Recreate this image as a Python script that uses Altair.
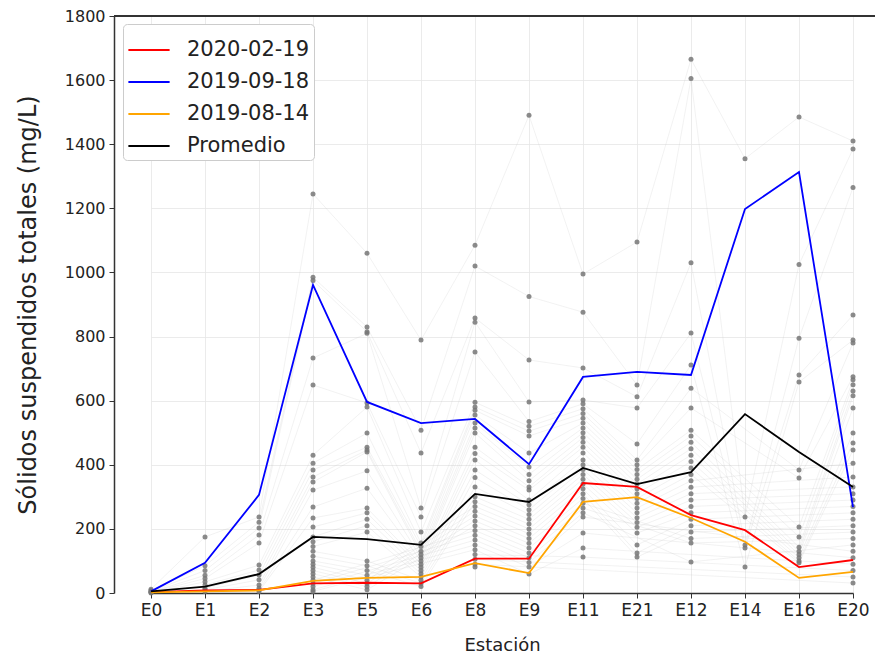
import altair as alt
import pandas as pd

stations = ["E0", "E1", "E2", "E3", "E5", "E6", "E8", "E9", "E11", "E21", "E12", "E14", "E16", "E20"]

red_2020_02_19 = [3, 8, 10, 30, 32, 30, 107, 107, 343, 331, 243, 196, 81, 103]
blue_2019_09_18 = [5, 94, 306, 961, 596, 530, 543, 402, 674, 690, 680, 1198, 1313, 268]
orange_2019_08_14 = [2, 5, 8, 38, 47, 50, 93, 62, 284, 299, 234, 160, 47, 66]
promedio = [5, 20, 59, 175, 168, 150, 309, 284, 390, 340, 377, 558, 440, 331]

series_names = ["2020-02-19", "2019-09-18", "2019-08-14", "Promedio"]
series_colors = ["#ff0000", "#0000ff", "#ffa500", "#000000"]

pts_E0 = [12, 8, 5, 3, 2, 0]
pts_E1 = [175, 85, 70, 55, 45, 35, 25, 15, 10, 5]
pts_E2 = [237, 221, 203, 181, 156, 87, 72, 56, 41, 25, 15, 9, 5]
pts_E3 = [1245, 985, 975, 733, 649, 430, 405, 384, 362, 346, 321, 268, 234, 206, 175, 160,
          145, 130, 115, 100, 90, 80, 70, 60, 50, 40, 30, 20, 10, 5]
pts_E5 = [1060, 830, 815, 810, 593, 580, 499, 455, 446, 440, 381, 327, 265, 250, 230, 210,
          190, 100, 85, 70, 55, 40, 30, 20, 10]
pts_E6 = [789, 508, 437, 265, 237, 190, 156, 145, 130, 120, 110, 100, 90, 80, 70, 60, 50, 40, 30, 20]
pts_E8 = [1085, 1020, 858, 845, 752, 595, 580, 570, 555, 530, 515, 499, 455, 435, 415, 384,
          360, 331, 300, 285, 270, 255, 240, 225, 210, 195, 180, 165, 150, 135, 120, 105, 90, 81]
pts_E9 = [1490, 925, 727, 596, 535, 520, 505, 490, 437, 393, 370, 350, 331, 321, 290, 275,
          260, 245, 230, 215, 200, 185, 170, 155, 140, 125, 110, 95, 81, 59]
pts_E11 = [995, 876, 702, 602, 590, 575, 560, 545, 530, 515, 500, 485, 470, 455, 437, 415,
           400, 385, 370, 355, 340, 325, 310, 295, 280, 265, 250, 237, 187, 140, 112]
pts_E21 = [1095, 649, 612, 577, 465, 415, 400, 385, 370, 355, 340, 325, 310, 295, 280, 265,
           250, 235, 220, 205, 187, 150, 125, 112]
pts_E12 = [1665, 1605, 1030, 811, 711, 639, 577, 508, 490, 470, 450, 430, 410, 390, 370, 350,
           330, 310, 290, 270, 250, 230, 210, 190, 170, 156, 97]
pts_E14 = [1355, 237, 150, 140, 81]
pts_E16 = [1485, 1025, 795, 680, 658, 384, 359, 206, 175, 143, 130, 120, 110, 100, 94]
pts_E20 = [1410, 1385, 1265, 867, 789, 780, 675, 665, 650, 630, 615, 577, 499, 468, 446, 405,
           362, 331, 310, 290, 270, 250, 230, 210, 190, 170, 150, 130, 110, 90, 70, 50, 31]

station_points = [pts_E0, pts_E1, pts_E2, pts_E3, pts_E5, pts_E6, pts_E8, pts_E9,
                  pts_E11, pts_E21, pts_E12, pts_E14, pts_E16, pts_E20]

# ---- tables built from the arrays ----
rows = []
for st, vals in zip(stations, station_points):
    for i, v in enumerate(vals):
        rows.append({"Estación": st, "valor": v, "muestra": i, "orden": stations.index(st)})
df_pts = pd.DataFrame(rows)

srows = []
for name, vals in zip(series_names, [red_2020_02_19, blue_2019_09_18, orange_2019_08_14, promedio]):
    for j, (st, v) in enumerate(zip(stations, vals)):
        srows.append({"Estación": st, "valor": v, "serie": name, "orden": j})
df_series = pd.DataFrame(srows)

W, H = 761, 577
FONT = "DejaVu Sans"

x_enc = alt.X("Estación:N", sort=stations,
              scale=alt.Scale(type="point", domain=stations, range=[37, 739], padding=0),
              axis=alt.Axis(title="Estación", labelAngle=0, grid=True, titlePadding=18,
                            titleFontSize=18, labelFontSize=17))
y_enc = alt.Y("valor:Q", scale=alt.Scale(domain=[0, 1800], nice=False),
              axis=alt.Axis(title="Sólidos suspendidos totales (mg/L)", format="d",
                            values=list(range(0, 1801, 200)), titlePadding=24,
                            titleFontSize=24, labelFontSize=16))

faint = alt.Chart(df_pts).mark_line(color="#c0c0c0", strokeWidth=0.7, opacity=0.3).encode(
    x=x_enc, y=y_enc, detail="muestra:N", order="orden:Q")

points = alt.Chart(df_pts).mark_circle(color="#777777", size=25, opacity=0.85).encode(
    x=x_enc, y=y_enc)

lines = alt.Chart(df_series).mark_line(strokeWidth=1.8).encode(
    x=x_enc, y=y_enc, order="orden:Q",
    color=alt.Color("serie:N", sort=series_names,
                    scale=alt.Scale(domain=series_names, range=series_colors),
                    legend=alt.Legend(title=None, orient="none", legendX=9, legendY=8,
                                      symbolType="stroke", symbolSize=1700, symbolStrokeWidth=2,
                                      labelFontSize=21, labelFont=FONT, labelColor="#222",
                                      labelOffset=16, rowPadding=-2,
                                      fillColor="white", strokeColor="#cccccc",
                                      padding=4, cornerRadius=4)))

top_spine = alt.Chart(df_series).mark_rule(color="#333333", strokeWidth=1.5).encode(
    x=alt.value(0), x2=alt.value(W), y=alt.value(0))

chart = alt.layer(faint, points, lines, top_spine).properties(
    width=W, height=H,
    autosize=alt.AutoSizeParams(type="none"),
    padding={"left": 106, "top": 8, "right": 0, "bottom": 66},
).configure_view(stroke=None).configure_axis(
    labelFont=FONT, titleFont=FONT, labelFontSize=16, titleFontSize=16,
    labelColor="#222222", titleColor="#222222", titleFontWeight="normal",
    domainColor="#333333", domainWidth=1.5, tickColor="#333333", tickSize=5,
    gridColor="#e6e6e6", gridWidth=0.8, labelPadding=4,
).configure_legend(labelFont=FONT)

chart.save("out.html", embed_options={"renderer": "svg", "actions": False})
